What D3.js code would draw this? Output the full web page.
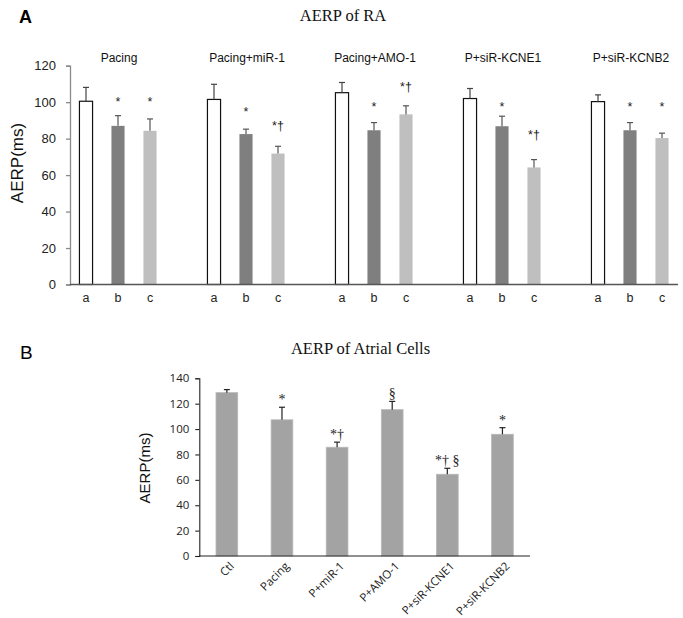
<!DOCTYPE html>
<html>
<head>
<meta charset="utf-8">
<script src="https://cdn.jsdelivr.net/npm/d3@7"></script>
<style>
  html, body { margin: 0; padding: 0; background: #fff; }
  svg { display: block; }
</style>
</head>
<body>
<svg id="chart" width="683" height="618"></svg>
<script>
// ---------------- Panel A data ----------------
const titleA = "AERP of RA";
const groupsA = ["Pacing", "Pacing+miR-1", "Pacing+AMO-1", "P+siR-KCNE1", "P+siR-KCNB2"];
const subLabelsA = ["a", "b", "c"];
const meansA = [
  [100.5, 87.0, 84.3],
  [101.5, 82.5, 71.8],
  [105.2, 84.6, 93.3],
  [102.0, 86.8, 64.2],
  [100.3, 84.6, 80.3]
];
const semA = [
  [7.6, 5.6, 6.5],
  [8.3, 2.7, 4.0],
  [5.6, 4.2, 4.7],
  [5.5, 5.5, 4.3],
  [3.7, 4.2, 2.7]
];
const marksA = [
  ["", "*", "*"],
  ["", "*", "*\u2020"],
  ["", "*", "*\u2020"],
  ["", "*", "*\u2020"],
  ["", "*", "*"]
];
// level (ms) at which each significance mark sits
const markLevelA = [
  [0, 101.8, 101.8],
  [0, 96.3, 88.6],
  [0, 99.0, 110.0],
  [0, 99.0, 83.8],
  [0, 99.0, 99.0]
];
const yTicksA = [0, 20, 40, 60, 80, 100, 120];

// ---------------- Panel B data ----------------
const titleB = "AERP of Atrial Cells";
const catsB = ["Ctl", "Pacing", "P+miR-1", "P+AMO-1", "P+siR-KCNE1", "P+siR-KCNB2"];
const meansB = [128.7, 107.3, 85.7, 115.3, 64.4, 95.9];
const semB = [2.4, 9.9, 4.0, 6.5, 4.7, 5.2];
const marksB = ["", "*", "*\u2020", "\u00a7", "*\u2020 \u00a7", "*"];
const yTicksB = [0, 20, 40, 60, 80, 100, 120, 140];

const yLabel = "AERP(ms)";

const svg = d3.select("#chart");
const colorsA = ["#ffffff", "#7f7f7f", "#bfbfbf"];

// ================= PANEL A =================
(function () {
  const slots = [];
  const bars = [];
  groupsA.forEach((g, gi) => {
    subLabelsA.forEach((s, si) => {
      const key = gi + "-" + s;
      slots.push(key);
      bars.push({ key, gi, si, label: s, mean: meansA[gi][si], sem: semA[gi][si],
                  mark: marksA[gi][si], level: markLevelA[gi][si] });
    });
    if (gi < groupsA.length - 1) slots.push("gap" + gi);
  });

  const x = d3.scaleBand().domain(slots).range([70, 678]).paddingInner(0.59).paddingOuter(0.295);
  const y = d3.scaleLinear().domain([0, 120]).range([284.5, 65.7]);
  const g = svg.append("g");

  // y axis
  const yAx = g.append("g").attr("transform", "translate(70,0)")
    .call(d3.axisLeft(y).tickValues(yTicksA).tickSize(4).tickPadding(10));
  yAx.select(".domain").attr("stroke", "#8a8a8a").attr("stroke-width", 1.3);
  yAx.selectAll(".tick line").attr("stroke", "#8a8a8a").attr("stroke-width", 1.3);
  yAx.selectAll("text").attr("font-family", "Arial, 'Liberation Sans', sans-serif")
    .attr("font-size", 13).attr("fill", "#222");

  // bars
  g.selectAll("rect.barA").data(bars).enter().append("rect")
    .attr("class", "barA")
    .attr("x", d => x(d.key))
    .attr("width", x.bandwidth())
    .attr("y", d => y(d.mean))
    .attr("height", d => y(0) - y(d.mean))
    .attr("fill", d => colorsA[d.si])
    .attr("stroke", d => d.si === 0 ? "#111" : "none")
    .attr("stroke-width", 1.2);

  // error bars
  const eb = g.selectAll("g.ebA").data(bars).enter().append("g").attr("class", "ebA")
    .attr("stroke", d => d.si === 0 ? "#444" : "#555").attr("stroke-width", 1.2);
  eb.append("line")
    .attr("x1", d => x(d.key) + x.bandwidth() / 2).attr("x2", d => x(d.key) + x.bandwidth() / 2)
    .attr("y1", d => y(d.mean)).attr("y2", d => y(d.mean + d.sem));
  eb.append("line")
    .attr("x1", d => x(d.key) + x.bandwidth() / 2 - 3).attr("x2", d => x(d.key) + x.bandwidth() / 2 + 3)
    .attr("y1", d => y(d.mean + d.sem)).attr("y2", d => y(d.mean + d.sem));

  // x axis line
  g.append("line").attr("x1", 70).attr("x2", 678).attr("y1", y(0)).attr("y2", y(0))
    .attr("stroke", "#555").attr("stroke-width", 1.3);

  // sub labels
  g.selectAll("text.subA").data(bars).enter().append("text")
    .attr("class", "subA")
    .attr("x", d => x(d.key) + x.bandwidth() / 2)
    .attr("y", y(0) + 17)
    .attr("text-anchor", "middle")
    .attr("font-family", "Arial, 'Liberation Sans', sans-serif")
    .attr("font-size", 12.5).attr("fill", "#222")
    .text(d => d.label);

  // significance marks
  g.selectAll("text.markA").data(bars.filter(d => d.mark)).enter().append("text")
    .attr("class", "markA")
    .attr("x", d => x(d.key) + x.bandwidth() / 2)
    .attr("y", d => y(d.level) + 7)
    .attr("text-anchor", "middle")
    .attr("font-family", "Arial, 'Liberation Sans', sans-serif")
    .attr("font-size", 12.5).attr("fill", "#222")
    .text(d => d.mark);

  // group titles
  groupsA.forEach((name, gi) => {
    const k = gi + "-b";
    g.append("text")
      .attr("x", x(k) + x.bandwidth() / 2 + 1)
      .attr("y", 62)
      .attr("text-anchor", "middle")
      .attr("font-family", "Arial, 'Liberation Sans', sans-serif")
      .attr("font-size", 12).attr("fill", "#111")
      .text(name);
  });

  // title
  g.append("text").attr("x", 343).attr("y", 21).attr("text-anchor", "middle")
    .attr("font-family", "'Liberation Serif', 'Times New Roman', serif")
    .attr("font-size", 16.5).attr("fill", "#111").text(titleA);

  // panel letter
  g.append("text").attr("x", 19).attr("y", 23)
    .attr("font-family", "Arial, 'Liberation Sans', sans-serif")
    .attr("font-weight", "bold").attr("font-size", 18).attr("fill", "#000").text("A");

  // y label
  g.append("text").attr("transform", "translate(23,163) rotate(-90)")
    .attr("text-anchor", "middle")
    .attr("font-family", "Arial, 'Liberation Sans', sans-serif")
    .attr("font-size", 17).attr("fill", "#111").text(yLabel);
})();

// ================= PANEL B =================
(function () {
  const x = d3.scaleBand().domain(catsB).range([199.3, 530]).paddingInner(0.606).paddingOuter(0.303);
  const y = d3.scaleLinear().domain([0, 140]).range([556, 378.3]);
  const g = svg.append("g");
  const data = catsB.map((c, i) => ({ c, mean: meansB[i], sem: semB[i], mark: marksB[i] }));

  const yAx = g.append("g").attr("transform", "translate(199.3,0)")
    .call(d3.axisLeft(y).tickValues(yTicksB).tickSize(4).tickPadding(6));
  yAx.select(".domain").attr("stroke", "#222").attr("stroke-width", 1.1);
  yAx.selectAll(".tick line").attr("stroke", "#222").attr("stroke-width", 1.1);
  yAx.selectAll("text").attr("font-family", "'Open Sans', sans-serif")
    .attr("font-size", 11.5).attr("fill", "#222");

  g.selectAll("rect.barB").data(data).enter().append("rect")
    .attr("class", "barB")
    .attr("x", d => x(d.c)).attr("width", x.bandwidth())
    .attr("y", d => y(d.mean)).attr("height", d => y(0) - y(d.mean))
    .attr("fill", "#a3a3a3").attr("stroke", "#b8b8b8").attr("stroke-width", 0.8);

  const eb = g.selectAll("g.ebB").data(data).enter().append("g").attr("class", "ebB")
    .attr("stroke", "#222").attr("stroke-width", 1.2);
  eb.append("line")
    .attr("x1", d => x(d.c) + x.bandwidth() / 2).attr("x2", d => x(d.c) + x.bandwidth() / 2)
    .attr("y1", d => y(d.mean)).attr("y2", d => y(d.mean + d.sem));
  eb.append("line")
    .attr("x1", d => x(d.c) + x.bandwidth() / 2 - 3).attr("x2", d => x(d.c) + x.bandwidth() / 2 + 3)
    .attr("y1", d => y(d.mean + d.sem)).attr("y2", d => y(d.mean + d.sem));

  g.append("line").attr("x1", 199.3).attr("x2", 530).attr("y1", y(0)).attr("y2", y(0))
    .attr("stroke", "#222").attr("stroke-width", 1.1);

  g.selectAll("text.markB").data(data.filter(d => d.mark)).enter().append("text")
    .attr("class", "markB")
    .attr("x", d => x(d.c) + x.bandwidth() / 2)
    .attr("y", d => y(d.mean + d.sem) - 3)
    .attr("text-anchor", "middle")
    .attr("font-family", "'Liberation Serif', 'Times New Roman', serif")
    .attr("font-size", 14).attr("fill", "#222")
    .text(d => d.mark);

  g.selectAll("text.catB").data(data).enter().append("text")
    .attr("class", "catB")
    .attr("transform", d => `translate(${x(d.c) + x.bandwidth() / 2 + 5},${y(0) + 8}) rotate(-45)`)
    .attr("text-anchor", "end")
    .attr("dy", "0.35em")
    .attr("font-family", "'Open Sans', sans-serif")
    .attr("font-size", 11.5).attr("fill", "#222")
    .text(d => d.c);

  g.append("text").attr("x", 360.5).attr("y", 354).attr("text-anchor", "middle")
    .attr("font-family", "'Liberation Serif', 'Times New Roman', serif")
    .attr("font-size", 16.5).attr("fill", "#111").text(titleB);

  g.append("text").attr("x", 20).attr("y", 359)
    .attr("font-family", "Arial, 'Liberation Sans', sans-serif")
    .attr("font-size", 19).attr("fill", "#000").text("B");

  g.append("text").attr("transform", "translate(150,468) rotate(-90)")
    .attr("text-anchor", "middle")
    .attr("font-family", "Arial, 'Liberation Sans', sans-serif")
    .attr("font-size", 15).attr("fill", "#111").text(yLabel);
})();
</script>
</body>
</html>
